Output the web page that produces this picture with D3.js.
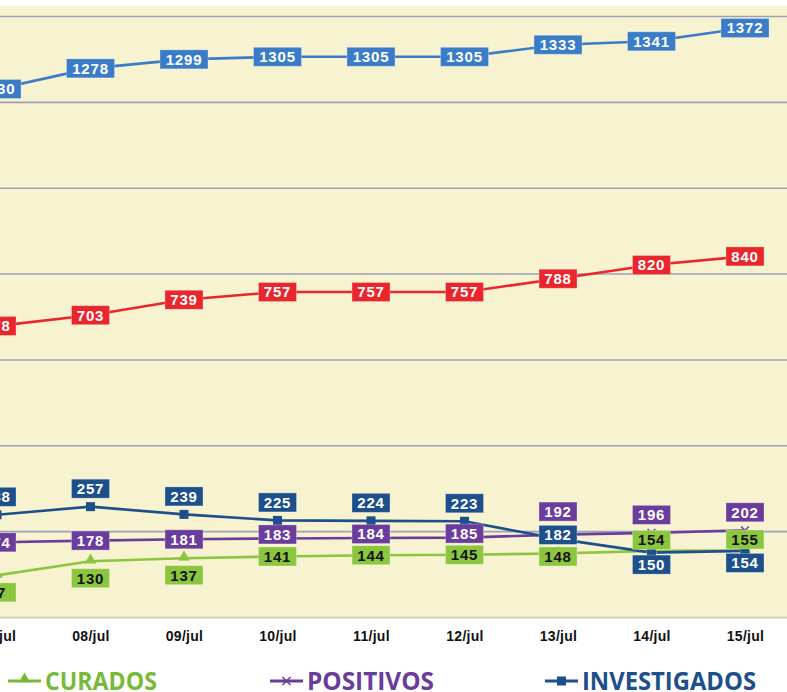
<!DOCTYPE html>
<html>
<head>
<meta charset="utf-8">
<script src="https://cdn.jsdelivr.net/npm/d3@7"></script>
<style>
  body { margin: 0; background: #fff; }
  svg { display: block; }
</style>
</head>
<body>
<svg id="chart" width="787" height="692"></svg>
<script>
// dates shown on the x axis
var dates = ["07/jul", "08/jul", "09/jul", "10/jul", "11/jul", "12/jul", "13/jul", "14/jul", "15/jul"];

// series values, one per date
var notificados = [1230, 1278, 1299, 1305, 1305, 1305, 1333, 1341, 1372];
var descartados = [678, 703, 739, 757, 757, 757, 788, 820, 840];
var investigados = [238, 257, 239, 225, 224, 223, 182, 150, 154];
var positivos = [174, 178, 181, 183, 184, 185, 192, 196, 202];
var curados = [97, 130, 137, 141, 144, 145, 148, 154, 155];

var gridValues = [200, 400, 600, 800, 1000, 1200, 1400];

var W = 787, H = 692;
var svg = d3.select("#chart");

var x = d3.scalePoint().domain(dates).range([-3, 745]);
var y = d3.scaleLinear().domain([0, 1400]).range([617, 16]);

// cream panel
svg.append("rect")
    .attr("x", 0).attr("y", 6)
    .attr("width", W).attr("height", 611)
    .attr("fill", "#f7f2cf");
svg.append("line")
    .attr("x1", 0).attr("x2", W)
    .attr("y1", 617.5).attr("y2", 617.5)
    .attr("stroke", "#d8d2b4").attr("stroke-width", 2);

// gridlines
var grid = svg.append("g")
    .call(d3.axisRight(y).tickValues(gridValues).tickSize(W).tickFormat(""));
grid.select(".domain").remove();
grid.selectAll(".tick line")
    .attr("stroke", "#9da1b6")
    .attr("stroke-width", 1.6);

// x axis labels
var xAxis = svg.append("g")
    .attr("transform", "translate(0,630)")
    .call(d3.axisBottom(x).tickSize(0).tickPadding(0));
xAxis.select(".domain").remove();
xAxis.selectAll("text")
    .attr("dy", "0.75em")
    .style("font-family", "'Liberation Sans', Arial, sans-serif")
    .style("font-weight", "bold")
    .style("font-size", "14px")
    .style("letter-spacing", "0.3px")
    .attr("fill", "#111");

var series = [
    {name: "notificados", values: notificados, color: "#3a7cc8", text: "#fff", marker: "none"},
    {name: "descartados", values: descartados, color: "#e8262b", text: "#fff", marker: "none"},
    {name: "curados", values: curados, color: "#8cc63f", text: "#111", marker: "triangle"},
    {name: "positivos", values: positivos, color: "#6a3d9c", text: "#fff", marker: "cross"},
    {name: "investigados", values: investigados, color: "#1d4f8b", text: "#fff", marker: "square"}
];

// which side of its point each label sits on
// U/u/h/s = above (far .. slightly), m = on the point, t/e/d = below (slightly .. far)
var labelSide = {
    notificados:  "mmmmmmmmm",
    descartados:  "mmmmmmmmm",
    curados:      "dddmmmthh",
    positivos:    "mmmsssUuu",
    investigados: "uuuuuusee"
};
var sideOffset = {U: -23, u: -18, h: -11, s: -4, m: 0, t: 3, e: 12, d: 17};

var line = d3.line()
    .x(function(d, i) { return x(dates[i]); })
    .y(function(d) { return y(d); });

// lines
svg.selectAll("path.series")
    .data(series)
    .enter()
    .append("path")
    .attr("class", "series")
    .attr("fill", "none")
    .attr("stroke", function(d) { return d.color; })
    .attr("stroke-width", 2.6)
    .attr("d", function(d) { return line(d.values); });

// markers
var markerG = svg.append("g");
series.forEach(function(s) {
    if (s.marker === "none") return;
    s.values.forEach(function(v, i) {
        var cx = x(dates[i]), cy = y(v);
        if (s.marker === "square") {
            markerG.append("rect")
                .attr("x", cx - 4.5).attr("y", cy - 4.5)
                .attr("width", 9).attr("height", 9)
                .attr("fill", s.color);
        } else if (s.marker === "triangle") {
            markerG.append("path")
                .attr("d", d3.symbol().type(d3.symbolTriangle).size(60))
                .attr("transform", "translate(" + cx + "," + (cy - 1) + ")")
                .attr("fill", s.color);
        } else {
            markerG.append("path")
                .attr("d", d3.symbol().type(d3.symbolTimes).size(40))
                .attr("transform", "translate(" + cx + "," + cy + ")")
                .attr("stroke", s.color).attr("stroke-width", 1.5)
                .attr("fill", s.color);
        }
    });
});

var labels = [];
series.forEach(function(s) {
    s.values.forEach(function(v, i) {
        var off = sideOffset[labelSide[s.name].charAt(i)];
        labels.push({s: s, v: v, cx: x(dates[i]), cy: y(v) + off});
    });
});

var lab = svg.selectAll("g.label")
    .data(labels)
    .enter()
    .append("g")
    .attr("class", "label")
    .attr("transform", function(d) { return "translate(" + d.cx + "," + d.cy + ")"; });

lab.append("rect")
    .attr("x", function(d) { return String(d.v).length > 3 ? -24 : -19; })
    .attr("y", -9.5)
    .attr("width", function(d) { return String(d.v).length > 3 ? 48 : 38; })
    .attr("height", 19)
    .attr("fill", function(d) { return d.s.color; })
    .attr("stroke", "#ffffff")
    .attr("stroke-opacity", 0.35)
    .attr("stroke-width", 0.8);

lab.append("text")
    .attr("text-anchor", "middle")
    .attr("dy", "0.36em")
    .style("font-family", "'Liberation Sans', Arial, sans-serif")
    .style("font-weight", "bold")
    .style("font-size", "15px")
    .style("letter-spacing", "0.8px")
    .attr("fill", function(d) { return d.s.text; })
    .text(function(d) { return d.v; });

// legend
var legendItems = [
    {label: "CURADOS", color: "#79b93a", marker: "triangle", x: 8, tw: 112},
    {label: "POSITIVOS", color: "#6a3d9c", marker: "cross", x: 270, tw: 127},
    {label: "INVESTIGADOS", color: "#1d4f8b", marker: "square", x: 545, tw: 174}
];
var leg = svg.selectAll("g.legend")
    .data(legendItems)
    .enter()
    .append("g")
    .attr("class", "legend")
    .attr("transform", function(d) { return "translate(" + d.x + ",681)"; });

leg.append("line")
    .attr("x1", 0).attr("x2", 33)
    .attr("stroke", function(d) { return d.color; })
    .attr("stroke-width", 3);

leg.each(function(d) {
    var g = d3.select(this);
    if (d.marker === "square") {
        g.append("rect").attr("x", 12).attr("y", -4.5).attr("width", 9).attr("height", 9).attr("fill", d.color);
    } else if (d.marker === "triangle") {
        g.append("path").attr("d", d3.symbol().type(d3.symbolTriangle).size(55))
            .attr("transform", "translate(16.5,-2)").attr("fill", d.color);
    } else {
        g.append("path").attr("d", d3.symbol().type(d3.symbolTimes).size(45))
            .attr("transform", "translate(16.5,0)")
            .attr("stroke", d.color).attr("stroke-width", 1.5).attr("fill", d.color);
    }
});

leg.append("text")
    .attr("x", 37)
    .attr("y", 9)
    .attr("textLength", function(d) { return d.tw; })
    .attr("lengthAdjust", "spacingAndGlyphs")
    .style("font-family", "'Liberation Sans Narrow', 'Open Sans', sans-serif")
    .style("font-weight", "bold")
    .style("font-size", "25px")
    .attr("fill", function(d) { return d.color; })
    .text(function(d) { return d.label; });
</script>
</body>
</html>
